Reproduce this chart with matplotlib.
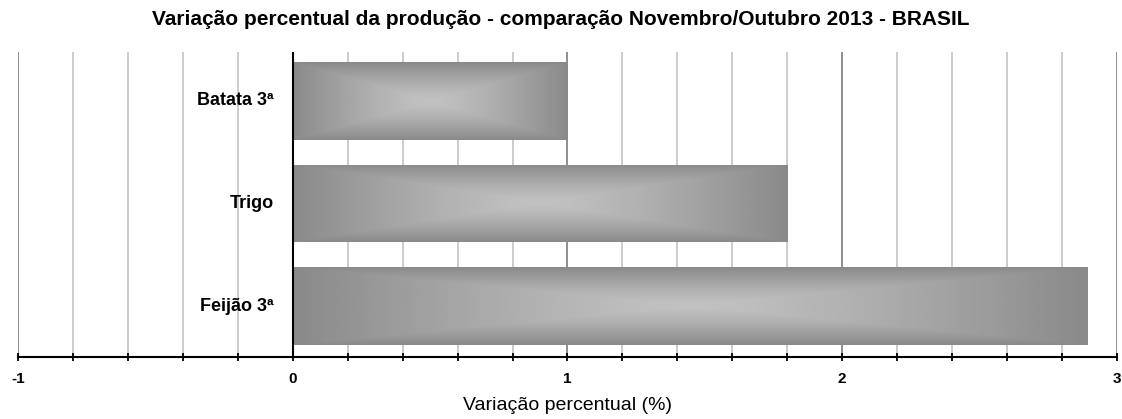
import matplotlib.pyplot as plt
import numpy as np
from matplotlib.ticker import MultipleLocator

plt.rcParams['font.family'] = ['Liberation Sans', 'DejaVu Sans']

categorias = ["Feijão 3ª", "Trigo", "Batata 3ª"]
variacao = [2.89, 1.80, 1.00]
xticks = [-1, 0, 1, 2, 3]

fig = plt.figure(figsize=(11.22, 4.19), dpi=100)
ax = fig.add_axes([0.016, 0.148, 0.9795, 0.728])

ax.set_xlim(-1, 3)
ax.set_ylim(-0.495, 2.476)

# grid
ax.xaxis.set_major_locator(MultipleLocator(1))
ax.xaxis.set_minor_locator(MultipleLocator(0.2))
ax.grid(which='major', axis='x', color='#868686', lw=1.3, zorder=0)
ax.grid(which='minor', axis='x', color='#c8c8c8', lw=1.3, zorder=0)

# gradient bars (light center, darker edges)
n = 200
u = np.linspace(-1, 1, n)
U, V = np.meshgrid(u, u)
d = np.maximum(np.abs(U), np.abs(V))
grad = 0.76 - 0.22 * d ** 1.3
altura = 0.757
for i, v in enumerate(variacao):
    rect = plt.Rectangle((0, i - altura / 2), v, altura, facecolor='none', edgecolor='none')
    ax.add_patch(rect)
    im = ax.imshow(grad, cmap='gray', vmin=0, vmax=1, aspect='auto',
                   extent=(0, v, i - altura / 2, i + altura / 2), zorder=2)
    im.set_clip_path(rect)

ax.axvline(0, color='black', lw=1.5, zorder=3)

for i, c in enumerate(categorias):
    ax.text(-0.07, i, c, ha='right', va='center', fontsize=13, fontweight='bold', zorder=4)

for s in ['top', 'right', 'left']:
    ax.spines[s].set_visible(False)
ax.spines['bottom'].set_linewidth(1.5)
ax.set_yticks([])
ax.set_xticks(xticks)
ax.set_xticklabels([str(t) for t in xticks], fontweight='bold', fontsize=11)
ax.tick_params(axis='x', which='both', direction='inout', length=6, width=1.3, pad=8)

ax.set_xlabel("Variação percentual (%)", fontsize=14, labelpad=8)
fig.suptitle("Variação percentual da produção - comparação Novembro/Outubro 2013 - BRASIL",
             fontsize=15, fontweight='bold', y=0.975)

plt.savefig("out.png", dpi=100)
